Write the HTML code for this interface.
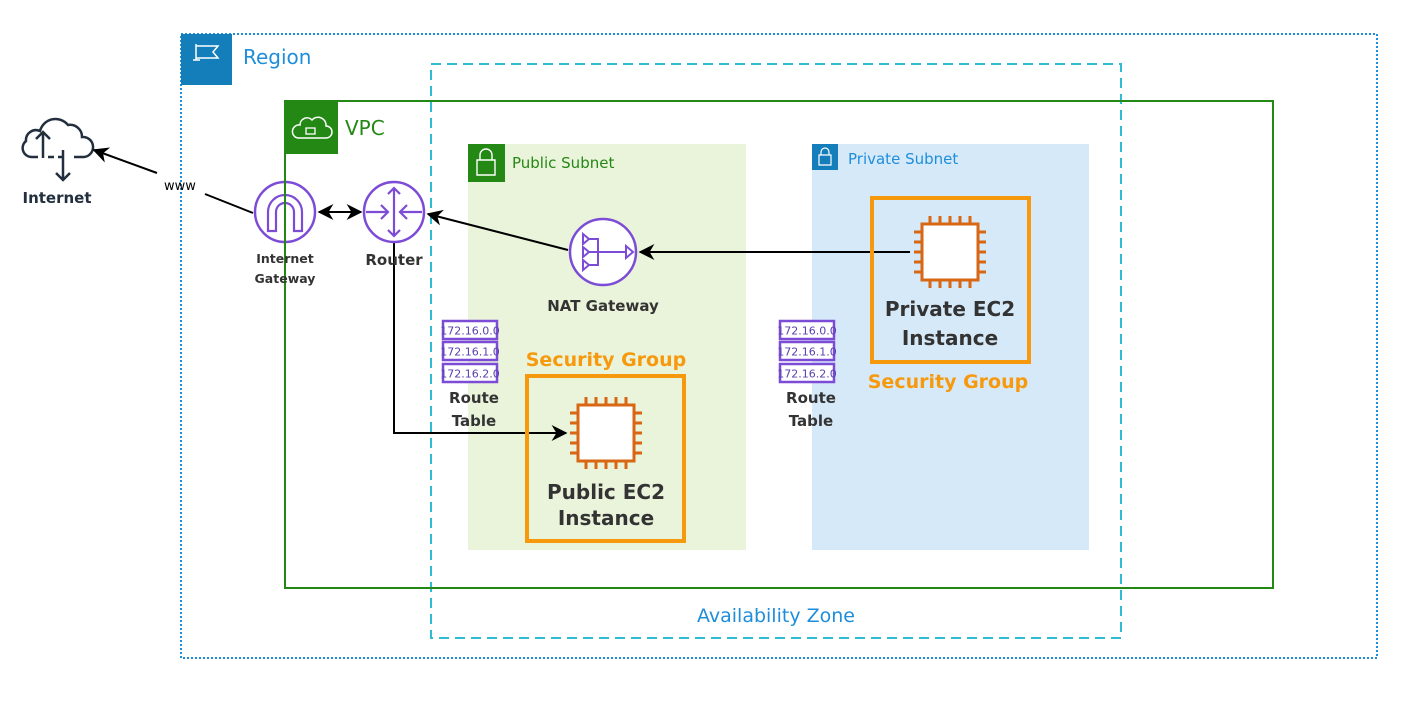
<!DOCTYPE html>
<html><head><meta charset="utf-8"><style>body{margin:0;background:#fff}svg{display:block}text{font-family:"DejaVu Sans","Liberation Sans",sans-serif}</style></head><body>
<svg width="1420" height="703" viewBox="0 0 1420 703" xmlns="http://www.w3.org/2000/svg">
<defs>
<marker id="a" viewBox="0 0 10 10" refX="9" refY="5" markerWidth="8" markerHeight="8" orient="auto-start-reverse"><path d="M0,0L10,5L0,10L3,5z" fill="#000"/></marker>
<g id="chip" fill="none" stroke="#D86613" stroke-width="3">
<rect x="-28" y="-28" width="56" height="56" fill="#fff"/>
<path d="M-20,-28v-8M-10,-28v-8M0,-28v-8M10,-28v-8M20,-28v-8M-20,28v8M-10,28v8M0,28v8M10,28v8M20,28v8M-28,-20h-8M-28,-10h-8M-28,0h-8M-28,10h-8M-28,20h-8M28,-20h8M28,-10h8M28,0h8M28,10h8M28,20h8"/>
</g>
<g id="rt">
<rect x="0" y="0" width="54" height="18" fill="#fff" stroke="#7D4CD6" stroke-width="2.5"/>
<rect x="0" y="21" width="54" height="18" fill="#fff" stroke="#7D4CD6" stroke-width="2.5"/>
<rect x="0" y="43" width="54" height="18" fill="#fff" stroke="#7D4CD6" stroke-width="2.5"/>
<text x="27" y="13.5" style="font-size:11px" fill="#5a3fb0" text-anchor="middle">172.16.0.0</text>
<text x="27" y="34.5" style="font-size:11px" fill="#5a3fb0" text-anchor="middle">172.16.1.0</text>
<text x="27" y="56.5" style="font-size:11px" fill="#5a3fb0" text-anchor="middle">172.16.2.0</text>
</g>
</defs>
<!-- Region -->
<rect x="181" y="34" width="1196" height="624" fill="none" stroke="#1E8EDB" stroke-width="2" stroke-dasharray="2,2"/>
<rect x="181" y="34" width="51" height="51" fill="#147EBA"/>
<path d="M196,44v16M193,60h7M196,46h22l-5,6l5,6h-22" fill="none" stroke="#fff" stroke-width="1.5"/>
<text x="243" y="64" style="font-size:20px" fill="#1E8EDB">Region</text>
<!-- subnets -->
<rect x="468" y="144" width="278" height="406" fill="#E9F4DB"/>
<rect x="812" y="144" width="277" height="406" fill="#D6E9F8"/>
<!-- AZ -->
<rect x="431" y="64" width="690" height="574" fill="none" stroke="#2FBCD0" stroke-width="2" stroke-dasharray="10,6"/>
<text x="776" y="622" style="font-size:19px" fill="#1E8EDB" text-anchor="middle">Availability Zone</text>
<!-- Internet -->
<path d="M38,157h-6a9,9 0 0 1 -6,-16a10,10 0 0 1 14,-10a16,16 0 0 1 28,-6a12,12 0 0 1 14,12a10,10 0 0 1 2,20h-10M48,157h6M58,157h4" fill="none" stroke="#232F3E" stroke-width="2.5"/>
<path d="M43,158v-26M36,139l7,-7l7,7M63,150v30M56,173l7,7l7,-7" fill="none" stroke="#232F3E" stroke-width="2.5"/>
<text x="57" y="203" style="font-size:15px" font-weight="bold" fill="#232F3E" text-anchor="middle">Internet</text>
<!-- lines -->
<line x1="157" y1="173" x2="94" y2="150" stroke="#000" stroke-width="2" marker-end="url(#a)"/>
<line x1="205" y1="194" x2="253" y2="213" stroke="#000" stroke-width="2"/>
<text x="180" y="190" style="font-size:13px" fill="#000" text-anchor="middle">www</text>
<line x1="319" y1="212" x2="361" y2="212" stroke="#000" stroke-width="2" marker-start="url(#a)" marker-end="url(#a)"/>
<line x1="568" y1="250" x2="428" y2="214" stroke="#000" stroke-width="2" marker-end="url(#a)"/>
<line x1="910" y1="252" x2="640" y2="252" stroke="#000" stroke-width="2" marker-end="url(#a)"/>
<polyline points="394,243 394,433 566,433" fill="none" stroke="#000" stroke-width="2" marker-end="url(#a)"/>
<!-- IGW -->
<circle cx="285" cy="212" r="30" fill="#fff" stroke="#7D4CD6" stroke-width="2.5"/>
<path d="M268,231v-19a17,17 0 0 1 34,0v19h-8v-19a9,9 0 0 0 -18,0v19z" fill="none" stroke="#7D4CD6" stroke-width="2.2"/>
<!-- VPC (drawn over IGW) -->
<rect x="285" y="101" width="988" height="487" fill="none" stroke="#248814" stroke-width="2"/>
<rect x="285" y="101" width="53" height="53" fill="#248814"/>
<path d="M298,138h28a6,6 0 0 0 0,-12a8,8 0 0 0 -14,-6a7,7 0 0 0 -12,5a6,6 0 0 0 -2,13z" fill="none" stroke="#fff" stroke-width="1.5"/>
<rect x="306" y="128" width="9" height="6" fill="none" stroke="#fff" stroke-width="1.3"/>
<text x="345" y="135" style="font-size:20px" fill="#248814">VPC</text>
<text x="285" y="263" style="font-size:12.5px" font-weight="bold" fill="#333" text-anchor="middle">Internet</text>
<text x="285" y="283" style="font-size:12.5px" font-weight="bold" fill="#333" text-anchor="middle">Gateway</text>
<!-- subnet labels -->
<rect x="468" y="144" width="37" height="38" fill="#248814"/>
<path d="M480,160v-5a6,6 0 0 1 12,0v5M477,160h18v15h-18z" fill="none" stroke="#fff" stroke-width="1.4"/>
<text x="512" y="168" style="font-size:15px" fill="#248814">Public Subnet</text>
<rect x="812" y="144" width="26" height="26" fill="#147EBA"/>
<path d="M821,155v-3a4,4 0 0 1 8,0v3M819,155h12v10h-12z" fill="none" stroke="#fff" stroke-width="1.2"/>
<text x="848" y="164" style="font-size:15px" fill="#1E8EDB">Private Subnet</text>
<!-- Router -->
<circle cx="394" cy="212" r="30" fill="#fff" stroke="#7D4CD6" stroke-width="2.5"/>
<path d="M394,188v48M388,194l6,-6l6,6M388,230l6,6l6,-6M366,212h22M381,205l7,7l-7,7M400,212h22M407,205l-7,7l7,7" fill="none" stroke="#7D4CD6" stroke-width="2.2"/>
<text x="394" y="265" style="font-size:15px" font-weight="bold" fill="#333" text-anchor="middle">Router</text>
<!-- NAT -->
<circle cx="603" cy="252" r="33" fill="#fff" stroke="#7D4CD6" stroke-width="2.5"/>
<path d="M583,234l6,5l-6,5zM583,247l6,5l-6,5zM583,260l6,5l-6,5zM626,246l7,6l-7,6z" fill="none" stroke="#7D4CD6" stroke-width="2"/>
<path d="M589,239h9v26h-9M589,252h37" fill="none" stroke="#7D4CD6" stroke-width="2"/>
<text x="603" y="311" style="font-size:15px" font-weight="bold" fill="#333" text-anchor="middle">NAT Gateway</text>
<!-- route tables -->
<use href="#rt" x="443" y="321"/>
<text x="474" y="403" style="font-size:15px" font-weight="bold" fill="#333" text-anchor="middle">Route</text>
<text x="474" y="426" style="font-size:15px" font-weight="bold" fill="#333" text-anchor="middle">Table</text>
<use href="#rt" x="780" y="321"/>
<text x="811" y="403" style="font-size:15px" font-weight="bold" fill="#333" text-anchor="middle">Route</text>
<text x="811" y="426" style="font-size:15px" font-weight="bold" fill="#333" text-anchor="middle">Table</text>
<!-- public SG -->
<text x="606" y="366" style="font-size:19px" font-weight="bold" fill="#F7990D" text-anchor="middle">Security Group</text>
<rect x="527" y="376" width="157" height="165" fill="none" stroke="#F7990D" stroke-width="4"/>
<use href="#chip" x="606" y="433"/>
<text x="606" y="499" style="font-size:20px" font-weight="bold" fill="#333" text-anchor="middle">Public EC2</text>
<text x="606" y="525" style="font-size:20px" font-weight="bold" fill="#333" text-anchor="middle">Instance</text>
<!-- private SG -->
<rect x="872" y="198" width="157" height="164" fill="none" stroke="#F7990D" stroke-width="4"/>
<use href="#chip" x="950" y="252"/>
<text x="950" y="316" style="font-size:20px" font-weight="bold" fill="#333" text-anchor="middle">Private EC2</text>
<text x="950" y="345" style="font-size:20px" font-weight="bold" fill="#333" text-anchor="middle">Instance</text>
<text x="948" y="388" style="font-size:19px" font-weight="bold" fill="#F7990D" text-anchor="middle">Security Group</text>
</svg>
</body></html>
